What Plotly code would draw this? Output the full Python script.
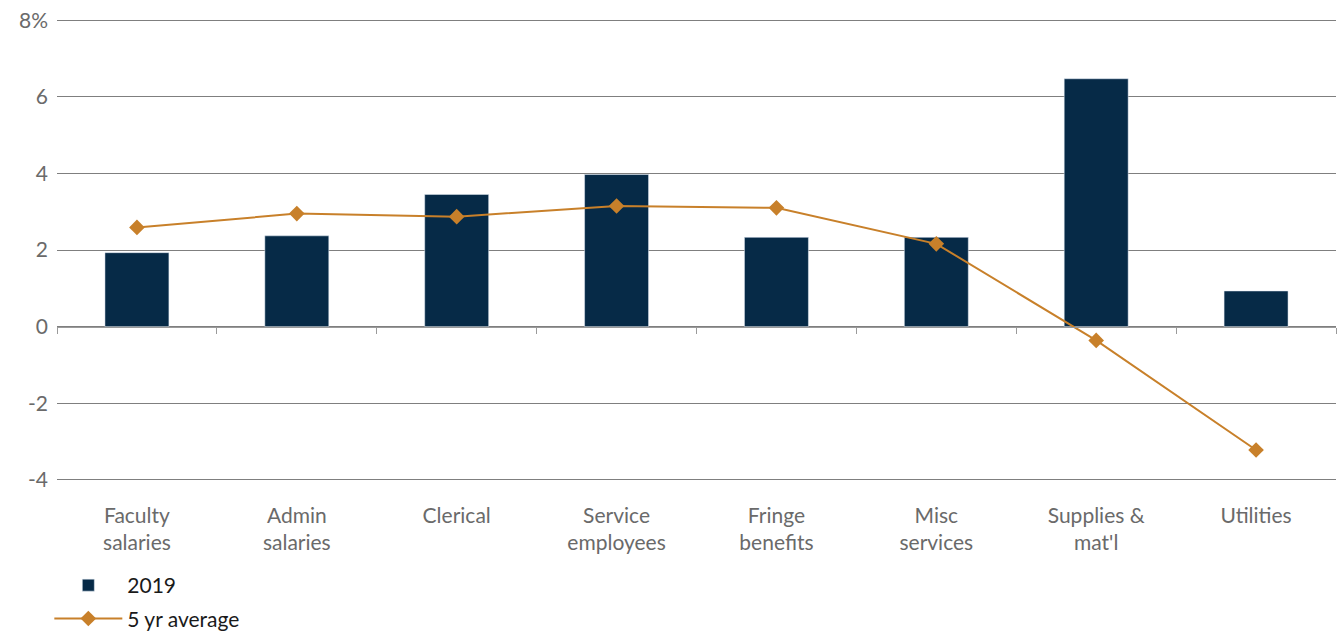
import plotly.graph_objects as go

categories = ["Faculty<br>salaries", "Admin<br>salaries", "Clerical", "Service<br>employees",
              "Fringe<br>benefits", "Misc<br>services", "Supplies &<br>mat'l", "Utilities"]
values_2019 = [1.93, 2.37, 3.45, 3.97, 2.33, 2.33, 6.47, 0.93]
values_5yr = [2.59, 2.95, 2.87, 3.15, 3.10, 2.16, -0.36, -3.22]
ytick_vals = [-4, -2, 0, 2, 4, 6, 8]
ytick_text = ["-4", "-2", "0", "2", "4", "6", "8%"]

NAVY = "#062a47"
ORANGE = "#c8802a"
GRAY = "#6a6a6a"
FONT = "Lato, 'Open Sans', sans-serif"

fig = go.Figure()
fig.add_trace(go.Bar(x=categories, y=values_2019, name="2019", marker_color=NAVY,
                     width=0.4, xaxis="x", yaxis="y", legendgroup="a"))
fig.add_trace(go.Scatter(x=categories, y=values_5yr, name="5 yr average", mode="lines+markers",
                         line=dict(color=ORANGE, width=2),
                         marker=dict(symbol="diamond", size=12, color=ORANGE),
                         xaxis="x", yaxis="y", legendgroup="b"))
# invisible helper trace for the zero-level category axis with boundary ticks
fig.add_trace(go.Scatter(x=categories, y=[None] * len(categories), xaxis="x2", yaxis="y",
                         showlegend=False, hoverinfo="skip"))

fig.update_layout(
    width=1338, height=639,
    margin=dict(l=57, r=2, t=19, b=158),
    paper_bgcolor="white", plot_bgcolor="white",
    font=dict(family=FONT, size=21, color=GRAY),
    bargap=0.6,
    xaxis=dict(type="category", showgrid=False, showline=False, ticks="",
               tickfont=dict(size=21, color=GRAY), range=[-0.5, 7.5],
               ticklabelstandoff=20, automargin=False),
    xaxis2=dict(type="category", overlaying="x", anchor="free", position=1/3,
                matches="x", showticklabels=False, showline=True, linecolor="#9a9a9a",
                linewidth=1, ticks="outside", tickson="boundaries", ticklen=6,
                tickcolor="#9a9a9a", showgrid=False, side="bottom"),
    yaxis=dict(range=[-4.03, 8.03], tickvals=ytick_vals, ticktext=ytick_text,
               showgrid=True, gridcolor="#7f7f7f", gridwidth=1, zeroline=False,
               showline=False, ticks="", ticklabelstandoff=8, automargin=False,
               tickfont=dict(size=21, color=GRAY)),
    legend=dict(xref="paper", yref="container", x=-0.006, y=0.0,
                xanchor="left", yanchor="bottom",
                orientation="v", font=dict(size=21, color="#1a1a1a"),
                itemwidth=68, tracegroupgap=3, bgcolor="rgba(0,0,0,0)"),
)

fig.write_html("out.html")
